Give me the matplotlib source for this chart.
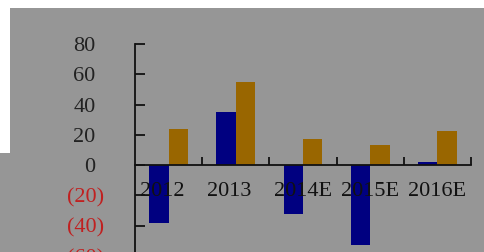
import numpy as np
import matplotlib.pyplot as plt
import matplotlib.transforms as mtransforms
from matplotlib.patches import Rectangle

years = ['2012', '2013', '2014E', '2015E', '2016E']
series_blue = [-38.5, 35.0, -32.0, -53.0, 2.0]
series_gold = [24.0, 54.7, 17.2, 13.0, 22.3]
y_ticks = [-60, -40, -20, 0, 20, 40, 60, 80]

plt.rcParams['font.family'] = ['Liberation Serif', 'DejaVu Serif']

fig = plt.figure(figsize=(4.84, 2.52), dpi=100)
fig.patch.set_facecolor('white')
# grey background panels (screenshot look)
bg = '#969696'
fig.add_artist(Rectangle((10 / 484, 0), 1, 244 / 252, transform=fig.transFigure,
                         facecolor=bg, edgecolor='none', zorder=0))
fig.add_artist(Rectangle((0, 0), 10 / 484, 99 / 252, transform=fig.transFigure,
                         facecolor=bg, edgecolor='none', zorder=0))

ax = fig.add_axes([135 / 484, -4 / 252, 336 / 484, 212 / 252])
ax.set_facecolor('none')
ax.set_axisbelow(False)  # labels drawn over the bars

x = np.arange(len(years))
w = 0.29
ax.bar(x - w / 2, series_blue, width=w, color='#000080', zorder=1)
ax.bar(x + w / 2, series_gold, width=w, color='#996600', zorder=1)

ax.set_xlim(-0.5, len(years) - 0.5)
ax.set_ylim(-60, 80)

for s in ['top', 'right']:
    ax.spines[s].set_visible(False)
ax.spines['bottom'].set_position(('data', 0))
for s in ['left', 'bottom']:
    ax.spines[s].set_color('#111111')
    ax.spines[s].set_linewidth(1.3)

# y axis
ax.set_yticks(y_ticks)
ylabels = [f'({abs(v)})' if v < 0 else f'{v}' for v in y_ticks]
ax.set_yticklabels(ylabels, fontsize=16)
ax.tick_params(axis='y', direction='in', length=7, width=1.3, color='#111111', pad=22)
shift_pos = mtransforms.ScaledTranslation(-9 / 100, 0, fig.dpi_scale_trans)
for v, lab in zip(y_ticks, ax.get_yticklabels()):
    if v < 0:
        lab.set_color('#c02020')
    else:
        lab.set_color('#222222')
        lab.set_transform(lab.get_transform() + shift_pos)

# x axis: boundary ticks pointing up, labels left-aligned near boundary
ax.set_xticks(x + 0.5, minor=True)
ax.tick_params(axis='x', which='minor', direction='in', length=6, width=1.3, color='#111111')
ax.set_xticks(x)
ax.set_xticklabels(years, fontsize=16, color='#111111', ha='left')
ax.tick_params(axis='x', which='major', length=0, pad=12)
shift_x = mtransforms.ScaledTranslation(-29 / 100, 0, fig.dpi_scale_trans)
for lab in ax.get_xticklabels():
    lab.set_transform(lab.get_transform() + shift_x)

fig.savefig('out.png', dpi=100)
